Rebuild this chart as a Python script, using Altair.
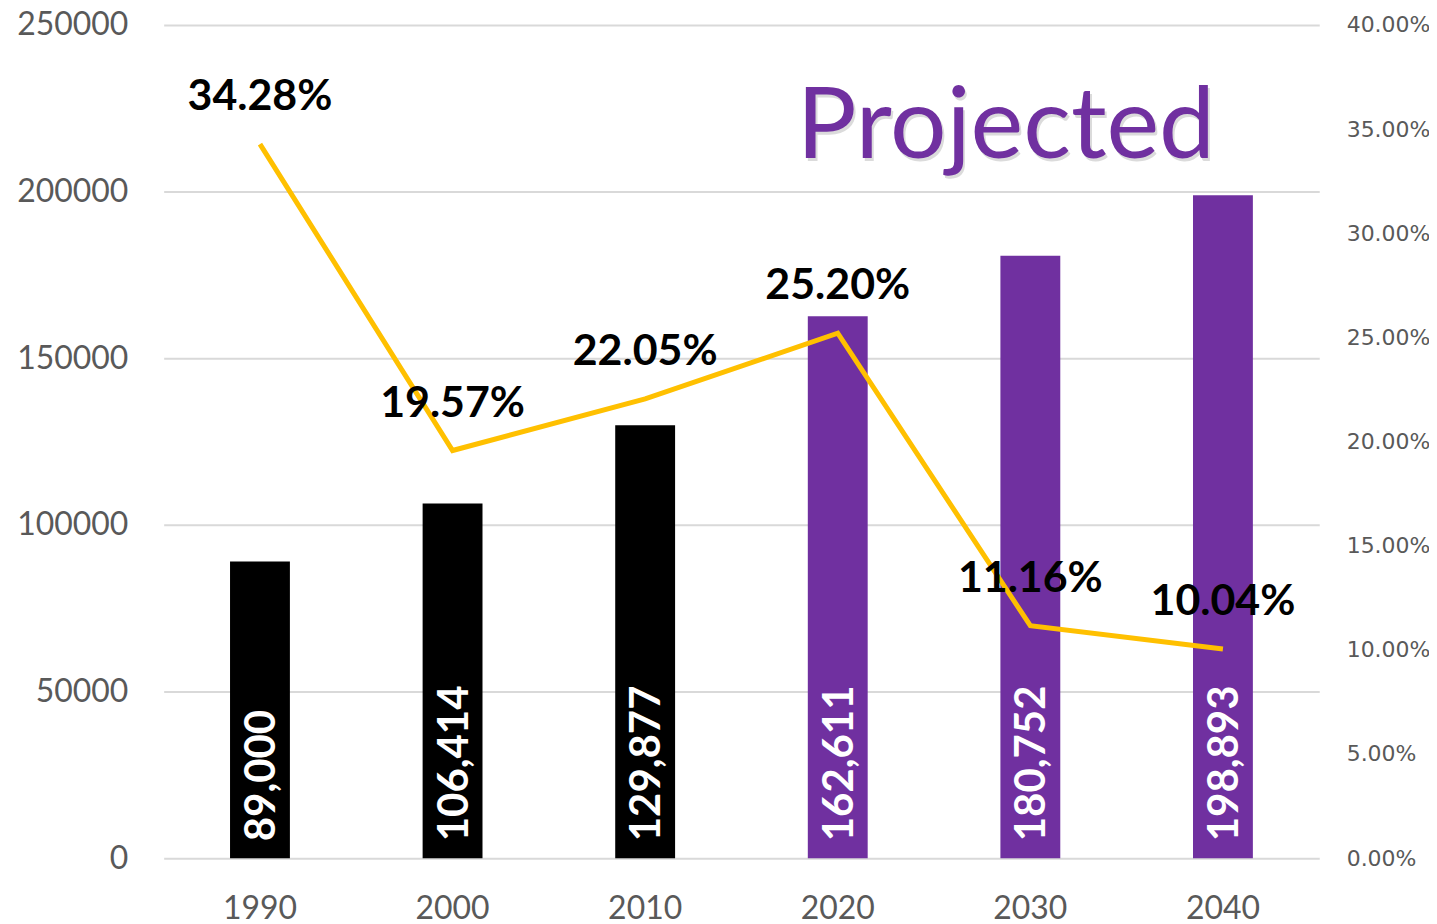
import altair as alt
import pandas as pd

years = ["1990", "2000", "2010", "2020", "2030", "2040"]
population = [89000, 106414, 129877, 162611, 180752, 198893]
growth = [0.3428, 0.1957, 0.2205, 0.2520, 0.1116, 0.1004]
bar_colors = ["#000000", "#000000", "#000000", "#7030A0", "#7030A0", "#7030A0"]
left_ticks = [0, 50000, 100000, 150000, 200000, 250000]
right_ticks = [0, 0.05, 0.10, 0.15, 0.20, 0.25, 0.30, 0.35, 0.40]

df = pd.DataFrame({"year": years, "pop": population, "pct": growth, "color": bar_colors})

W, H = 1158, 835
FONT = "Lato"

x = alt.X("year:N", sort=years, title=None,
          scale=alt.Scale(paddingInner=0, paddingOuter=0),
          axis=alt.Axis(labelAngle=0, labelFont=FONT, labelFontSize=32, labelColor="#595959",
                        labelPadding=35, domain=False, ticks=False))

left_axis = alt.Axis(values=left_ticks, format="d", labelFont=FONT, labelFontSize=32,
                     labelColor="#595959", labelPadding=36, domain=False, ticks=False,
                     grid=True, gridColor="#d9d9d9", gridWidth=2, orient="left")
left_scale = alt.Scale(domain=[0, 250000], nice=False)

base = alt.Chart(df)

bars = base.mark_bar(size=60).encode(
    x=x, y=alt.Y("pop:Q", title=None, scale=left_scale, axis=left_axis),
    color=alt.Color("color:N", scale=None)
)

bar_text = base.transform_calculate(zero="0").mark_text(
    angle=270, align="left", baseline="middle", dx=17, dy=2,
    font=FONT, fontSize=42, fontWeight="bold", color="white"
).encode(
    x=x,
    y=alt.Y("zero:Q", title=None, scale=left_scale, axis=left_axis),
    text=alt.Text("pop:Q", format=","),
)

yright = alt.Y("pct:Q", title=None,
               scale=alt.Scale(domain=[0, 0.4], nice=False),
               axis=alt.Axis(values=right_ticks, format=".2%", orient="right", labelFont="DejaVu Sans",
                             labelFontSize=22, labelColor="#595959", labelPadding=27,
                             domain=False, ticks=False, grid=False))

line = base.mark_line(color="#FFC000", strokeWidth=5).encode(x=x, y=yright)

line_text = base.mark_text(
    dy=-47, font=FONT, fontSize=43, fontWeight="bold", color="black"
).encode(x=x, y=yright, text=alt.Text("pct:Q", format=".2%"))

proj_shadow = alt.Chart(pd.DataFrame({"t": ["Projected"]})).mark_text(
    font=FONT, fontSize=100, color="#9a9a9a", opacity=0.35, align="center", baseline="alphabetic"
).encode(text="t:N", x=alt.value(846), y=alt.value(136))

proj = alt.Chart(pd.DataFrame({"t": ["Projected"]})).mark_text(
    font=FONT, fontSize=100, color="#7030A0", align="center", baseline="alphabetic"
).encode(text="t:N", x=alt.value(844), y=alt.value(133))

left_layer = alt.layer(bars, bar_text)
right_layer = alt.layer(line, line_text)

chart = alt.layer(left_layer, right_layer, proj_shadow, proj).resolve_scale(
    y="independent"
).properties(
    width=W, height=H,
    background="white",
    autosize=alt.AutoSizeParams(type="none"),
    padding={"left": 156, "top": 16, "right": 110, "bottom": 60},
).configure_view(stroke=None)

chart.save("out.html", embed_options={"renderer": "svg", "actions": False})
